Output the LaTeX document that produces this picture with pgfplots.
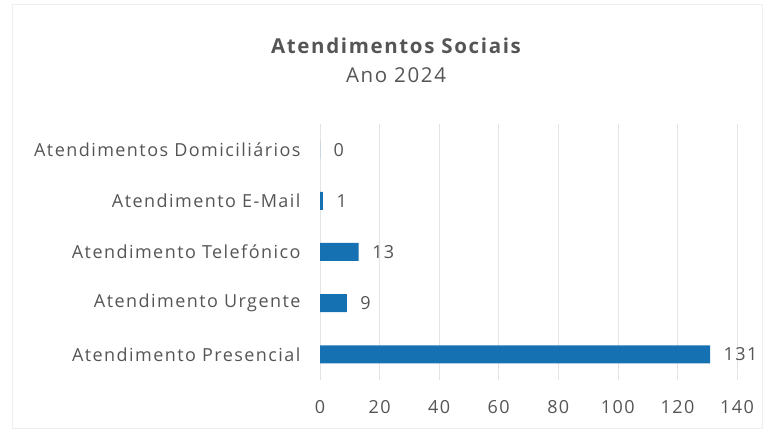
\documentclass[border=0pt]{standalone}
\usepackage{pgfplots}
\pgfplotsset{compat=1.18}
\usepackage{fontspec}
\setmainfont{Open Sans}[LetterSpace=8]
\definecolor{barblue}{RGB}{22,113,178}
\definecolor{txtgray}{RGB}{85,85,85}
\definecolor{gridgray}{RGB}{228,228,228}

\begin{document}
\begin{tikzpicture}[x=1pt,y=1pt]
\useasboundingbox (0,0) rectangle (770,430);
\draw[gridgray!60] (12,2) rectangle (762,426);
\node[txtgray,font=\fontsize{20.5}{24}\selectfont\bfseries] at (396,384) {Atendimentos Sociais};
\node[txtgray,font=\fontsize{20.5}{24}\selectfont] at (396,355) {Ano 2024};
\begin{axis}[
    at={(320pt,50pt)}, anchor=south west,
    scale only axis, width=417pt, height=256pt,
    xbar, bar width=18pt,
    xmin=0, xmax=140, xtick={0,20,...,140},
    ymin=-0.5, ymax=4.5,
    ytick={0,1,2,3,4},
    yticklabels={Atendimento Presencial,Atendimento Urgente,Atendimento Telefónico,Atendimento E-Mail,Atendimentos Domiciliários},
    axis line style={draw=none},
    major tick length=0pt,
    xmajorgrids, grid style={gridgray, line width=0.6pt},
    tick label style={txtgray, font=\fontsize{18}{21}\selectfont},
    /pgf/number format/assume math mode=true,
    xticklabel style={yshift=-17pt},
    yticklabel style={xshift=-16pt},
    nodes near coords,
    nodes near coords align={horizontal},
    every node near coord/.append style={txtgray, font=\fontsize{18}{21}\selectfont, xshift=10pt},
  ]
  \addplot[fill=barblue, draw=none] coordinates {(131,0) (9,1) (13,2) (1,3) (0,4)};
\end{axis}
\end{tikzpicture}
\end{document}
